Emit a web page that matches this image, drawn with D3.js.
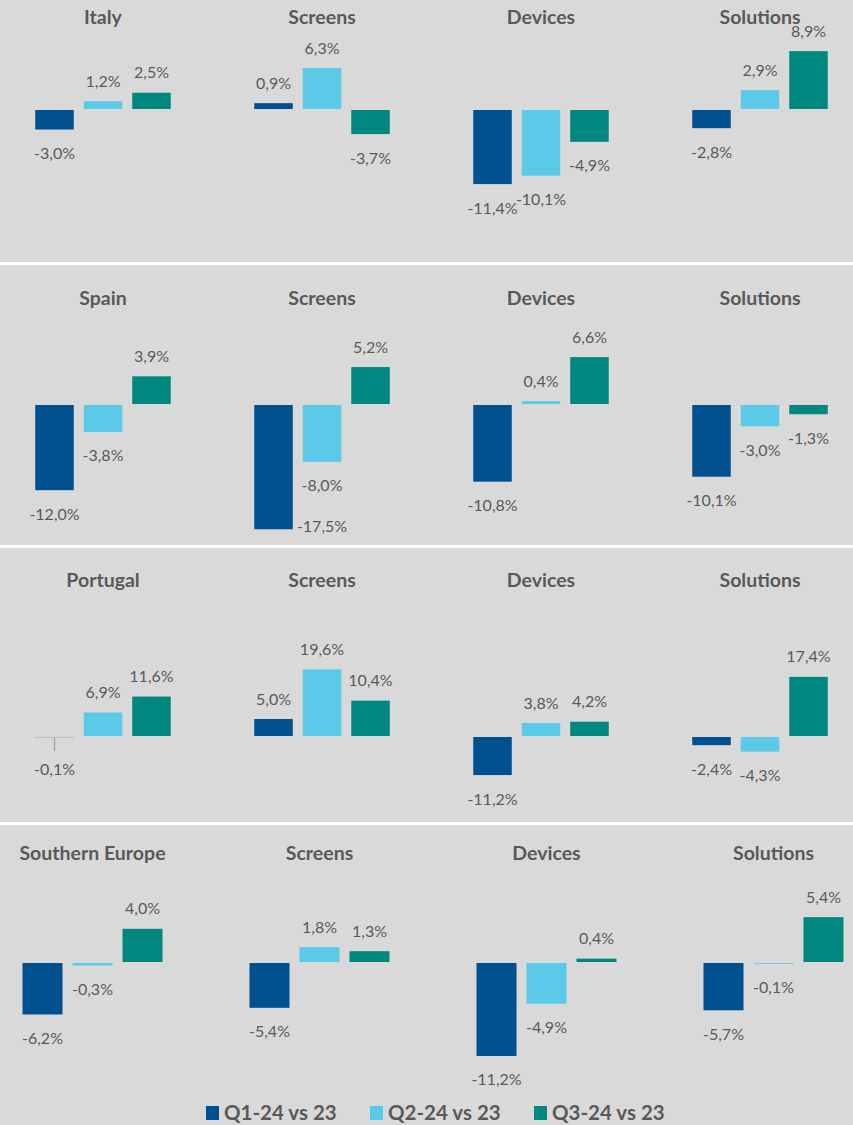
<!DOCTYPE html>
<html>
<head>
<meta charset="utf-8">
<script src="https://cdn.jsdelivr.net/npm/d3@7"></script>
<style>
  html, body { margin: 0; padding: 0; background: #fff; }
  svg { display: block; font-family: Lato, "Open Sans", sans-serif; }
</style>
</head>
<body>
<div id="chart"></div>
<script>
// titles of each small chart, one list per row (first = region total)
const regions = ["Italy", "Spain", "Portugal", "Southern Europe"];
const segments = ["Screens", "Devices", "Solutions"];
const series = ["Q1-24 vs 23", "Q2-24 vs 23", "Q3-24 vs 23"];

// % change vs previous year, [total, Screens, Devices, Solutions] x [Q1, Q2, Q3]
const italy = [[-3.0, 1.2, 2.5], [0.9, 6.3, -3.7], [-11.4, -10.1, -4.9], [-2.8, 2.9, 8.9]];
const spain = [[-12.0, -3.8, 3.9], [-17.5, -8.0, 5.2], [-10.8, 0.4, 6.6], [-10.1, -3.0, -1.3]];
const portugal = [[-0.1, 6.9, 11.6], [5.0, 19.6, 10.4], [-11.2, 3.8, 4.2], [-2.4, -4.3, 17.4]];
const southernEurope = [[-6.2, -0.3, 4.0], [-5.4, 1.8, 1.3], [-11.2, -4.9, 0.4], [-5.7, -0.1, 5.4]];

const rowValues = [italy, spain, portugal, southernEurope];

const width = 853, height = 1125;
const colors = ["#004F8F", "#5BCAE8", "#00877F"];
const textColor = "#595959";

// layout of each row panel (each Excel chart had its own axis scale)
const rows = [
    { top: 0,   bottom: 262,  titleY: 16,  base: 109, k: 6.5, cx: [103, 760],   half: 67.75, pad: 0.206 },
    { top: 265, bottom: 545,  titleY: 297, base: 404, k: 7.1, cx: [103, 760],   half: 67.75, pad: 0.206 },
    { top: 548, bottom: 822,  titleY: 579, base: 736, k: 3.4, cx: [103, 760],   half: 67.75, pad: 0.206 },
    { top: 825, bottom: 1125, titleY: 852, base: 962, k: 8.3, cx: [92.5, 773.5], half: 70,   pad: 0.2 }
];

const color = d3.scaleOrdinal().domain(series).range(colors);

const svg = d3.select("#chart").append("svg")
    .attr("width", width)
    .attr("height", height);

svg.append("rect")
    .attr("width", width).attr("height", height)
    .attr("fill", "#D9D9D9");

rows.forEach((r, ri) => {
    const titles = [regions[ri], ...segments];
    const vals = rowValues[ri];

    const xOuter = d3.scalePoint().domain(titles).range(r.cx);
    const xInner = d3.scaleBand().domain(series).range([-r.half, r.half]).paddingInner(r.pad).paddingOuter(0);
    const y = d3.scaleLinear().domain([0, 10]).range([r.base, r.base - 10 * r.k]);

    const g = svg.append("g");

    titles.forEach((t, ci) => {
        const cg = g.append("g").attr("transform", `translate(${xOuter(t)},0)`);

        cg.append("text")
            .attr("x", 0)
            .attr("y", r.titleY)
            .attr("text-anchor", "middle")
            .attr("dominant-baseline", "central")
            .attr("font-size", "19.5px")
            .attr("font-weight", "bold")
            .attr("fill", textColor)
            .text(t);

        const data = series.map((s, i) => ({ s, v: vals[ci][i] }));

        cg.selectAll(".bar")
            .data(data)
            .enter()
            .append("rect")
            .attr("class", "bar")
            .attr("x", d => xInner(d.s))
            .attr("width", xInner.bandwidth())
            .attr("y", d => d.v >= 0 ? y(d.v) : y(0) + 1)
            .attr("height", d => Math.max(0.8, Math.abs(y(d.v) - y(0))))
            .attr("fill", d => color(d.s));

        // leader line for the tiny Portugal Q1 bar
        if (ri === 2 && ci === 0) {
            const s0 = series[0];
            cg.append("line")
                .attr("x1", xInner(s0)).attr("x2", xInner(s0) + xInner.bandwidth())
                .attr("y1", y(0) + 1.5).attr("y2", y(0) + 1.5)
                .attr("stroke", "#BFBFBF").attr("stroke-width", 1);
            cg.append("line")
                .attr("x1", xInner(s0) + xInner.bandwidth() / 2).attr("x2", xInner(s0) + xInner.bandwidth() / 2)
                .attr("y1", y(0) + 1.5).attr("y2", y(0) + 15)
                .attr("stroke", "#A6A6A6").attr("stroke-width", 1.5);
        }

        cg.selectAll(".label")
            .data(data)
            .enter()
            .append("text")
            .attr("class", "label")
            .attr("text-anchor", "middle")
            .attr("dominant-baseline", "central")
            .attr("font-size", "16px")
            .attr("fill", textColor)
            .each(function (d) {
                let lx = xInner(d.s) + xInner.bandwidth() / 2;
                let ly = d.v >= 0 ? y(d.v) - 21 : y(d.v) + 24;
                if (ri === 2 && ci === 0 && d.s === series[0]) ly = y(d.v) + 32;
                if (ly > r.bottom - 12) {
                    // label would fall out of the panel: Excel moved it beside the bar
                    lx += xInner.step();
                    ly = y(d.v) - 3;
                }
                d3.select(this).attr("x", lx).attr("y", ly);
            })
            .text(d => d3.format(".1f")(d.v).replace(".", ",").replace("−", "-") + "%");
    });
});

// white separators between panels
rows.slice(1).forEach(r => {
    svg.append("rect")
        .attr("x", 0).attr("y", r.top - 3)
        .attr("width", width).attr("height", 3)
        .attr("fill", "#FFFFFF");
});

// legend
const legendX = [206, 370, 534];
const legend = svg.append("g");
series.forEach((s, i) => {
    legend.append("rect")
        .attr("x", legendX[i]).attr("y", 1106)
        .attr("width", 13).attr("height", 14)
        .attr("fill", color(s));
    legend.append("text")
        .attr("x", legendX[i] + 18).attr("y", 1112)
        .attr("dominant-baseline", "central")
        .attr("font-size", "20.5px")
        .attr("font-weight", "bold")
        .attr("fill", textColor)
        .text(s);
});
</script>
</body>
</html>
